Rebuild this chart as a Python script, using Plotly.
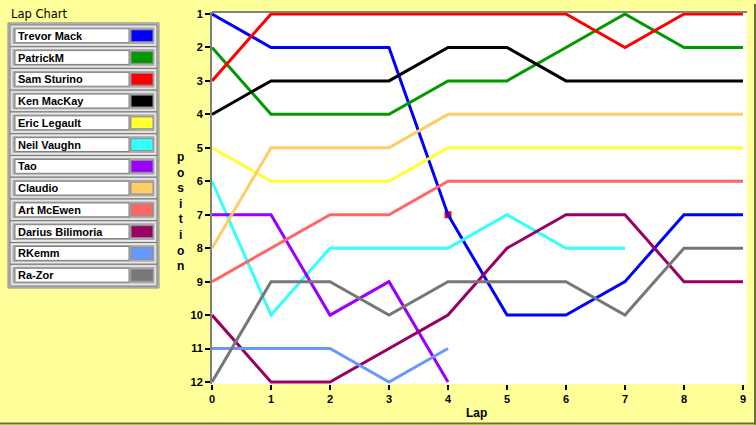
import plotly.graph_objects as go

laps = list(range(10))

drivers = ["Trevor Mack", "PatrickM", "Sam Sturino", "Ken MacKay", "Eric Legault",
           "Neil Vaughn", "Tao", "Claudio", "Art McEwen", "Darius Bilimoria",
           "RKemm", "Ra-Zor"]
colors = ["#0000FF", "#009900", "#FF0000", "#000000", "#FFFF33", "#33FFFF",
          "#9900FF", "#FFCC66", "#FF6666", "#990066", "#6699FF", "#777777"]

trevor = [1, 2, 2, 2, 7, 10, 10, 9, 7, 7]
patrick = [2, 4, 4, 4, 3, 3, 2, 1, 2, 2]
sam = [3, 1, 1, 1, 1, 1, 1, 2, 1, 1]
ken = [4, 3, 3, 3, 2, 2, 3, 3, 3, 3]
eric = [5, 6, 6, 6, 5, 5, 5, 5, 5, 5]
neil = [6, 10, 8, 8, 8, 7, 8, 8]
tao = [7, 7, 10, 9, 12]
claudio = [8, 5, 5, 5, 4, 4, 4, 4, 4, 4]
art = [9, 8, 7, 7, 6, 6, 6, 6, 6, 6]
darius = [10, 12, 12, 11, 10, 8, 7, 7, 9, 9]
rkemm = [11, 11, 11, 12, 11]
razor = [12, 9, 9, 10, 9, 9, 9, 10, 8, 8]
positions = [trevor, patrick, sam, ken, eric, neil, tao, claudio, art, darius, rkemm, razor]

# the small red square at lap 4
mark_lap = [4]
mark_pos = [7]

BG = "#FFFF99"
FONT = "Liberation Sans"

# plot area in pixels: x 212..747, y 8..384
def px(x):
    return (x - 212) / 535


def py(y):
    return (384 - y) / 376


fig = go.Figure()

fig.add_trace(go.Scatter(x=mark_lap, y=mark_pos, mode="markers",
                         marker=dict(symbol="square", size=7, color="#FF0000"),
                         hoverinfo="skip"))

for name, pos, col in zip(drivers, positions, colors):
    fig.add_trace(go.Scatter(x=laps[:len(pos)], y=pos, mode="lines", name=name,
                             line=dict(color=col, width=3)))

shapes = []
# top frame line of the plot
shapes.append(dict(type="line", xref="paper", yref="paper", x0=0, x1=1, y0=1, y1=1,
                   line=dict(color="#808080", width=2)))
# window border right / bottom
shapes.append(dict(type="line", xref="paper", yref="paper", x0=px(755), x1=px(755),
                   y0=py(0), y1=py(425), line=dict(color="#6E6E40", width=2)))
shapes.append(dict(type="line", xref="paper", yref="paper", x0=px(0), x1=px(756),
                   y0=py(424), y1=py(424), line=dict(color="#6E6E40", width=2)))

# legend panel
shapes.append(dict(type="rect", xref="paper", yref="paper", x0=px(8), x1=px(159),
                   y0=py(19), y1=py(287), fillcolor="#C0C0C0",
                   line=dict(color="#8C8C8C", width=1)))

annotations = [dict(text="Lap Chart", x=px(9), y=py(10), xref="paper", yref="paper",
                    xanchor="left", yanchor="middle", showarrow=False,
                    font=dict(family="DejaVu Sans", size=11.5, color="black"))]

for i, (name, col) in enumerate(zip(drivers, colors)):
    y0 = 21 + 22 * i
    shapes.append(dict(type="rect", xref="paper", yref="paper", x0=px(10), x1=px(157),
                       y0=py(y0), y1=py(y0 + 22), fillcolor="#DCDCDC",
                       line=dict(color="#7A7A7A", width=1)))
    shapes.append(dict(type="rect", xref="paper", yref="paper", x0=px(12), x1=px(155),
                       y0=py(y0 + 2), y1=py(y0 + 20), fillcolor="#ABABAB",
                       line=dict(color="#EEEEEE", width=1)))
    shapes.append(dict(type="rect", xref="paper", yref="paper", x0=px(15), x1=px(129),
                       y0=py(y0 + 4), y1=py(y0 + 18), fillcolor="white",
                       line=dict(color="#808080", width=1)))
    shapes.append(dict(type="rect", xref="paper", yref="paper", x0=px(131), x1=px(153),
                       y0=py(y0 + 5), y1=py(y0 + 17), fillcolor=col,
                       line=dict(color="#909090", width=1)))
    annotations.append(dict(text="<b>%s</b>" % name, x=px(16), y=py(y0 + 11),
                            xref="paper", yref="paper", xanchor="left", yanchor="middle",
                            showarrow=False, font=dict(family=FONT, size=11, color="black")))

annotations.append(dict(text="<b>p<br>o<br>s<br>i<br>t<br>i<br>o<br>n</b>",
                        x=px(180), y=py(210), xref="paper", yref="paper",
                        xanchor="center", yanchor="middle", showarrow=False,
                        font=dict(family=FONT, size=12, color="black")))
annotations.append(dict(text="<b>Lap</b>", x=px(476), y=py(413), xref="paper",
                        yref="paper", xanchor="center", yanchor="middle", showarrow=False,
                        font=dict(family=FONT, size=12, color="black")))

fig.update_layout(
    width=756, height=425,
    margin=dict(l=212, r=9, t=8, b=41),
    paper_bgcolor=BG, plot_bgcolor="white",
    showlegend=False, hovermode=False,
    shapes=shapes, annotations=annotations,
    xaxis=dict(range=[0, 9.068], tickvals=laps, ticks="outside", ticklen=5,
               tickcolor="black", tickwidth=2, showgrid=False, zeroline=False,
               showline=False, tickfont=dict(family=FONT, size=11, color="black",
                                             weight="bold")),
    yaxis=dict(range=[12.059, 0.941], tickvals=list(range(1, 13)), ticks="outside",
               ticklen=5, tickcolor="black", tickwidth=2, showgrid=False, zeroline=False,
               showline=True, linecolor="#808080", linewidth=2,
               tickfont=dict(family=FONT, size=11, color="black", weight="bold")),
)

# the page gets no body margin so the figure fills the window exactly
fig.write_html("out.html", config={"displayModeBar": False},
               post_script="document.body.style.margin='0';")
